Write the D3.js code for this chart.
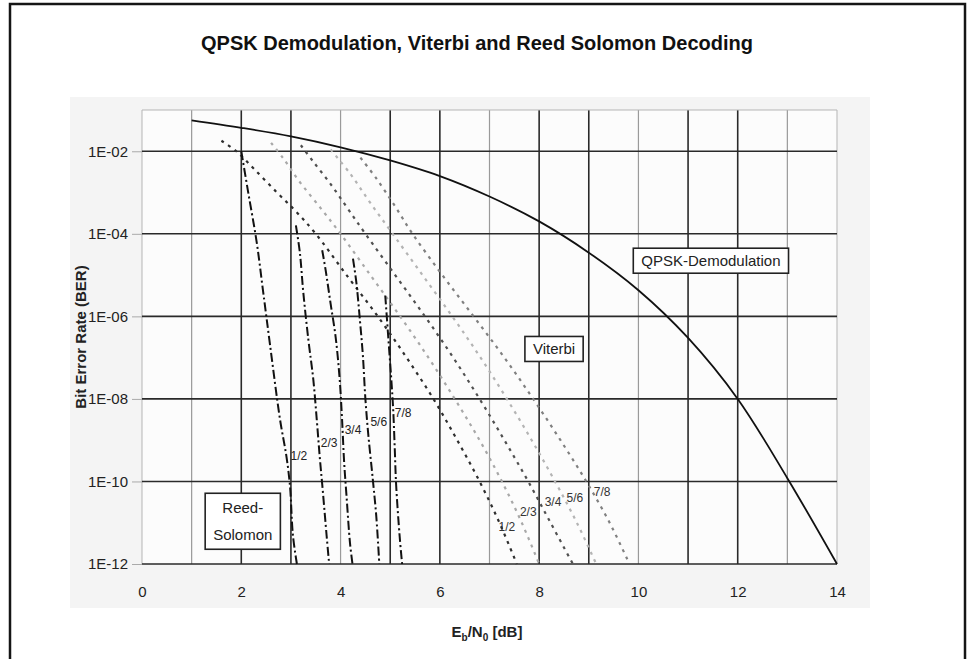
<!DOCTYPE html>
<html>
<head>
<meta charset="utf-8">
<script src="https://cdn.jsdelivr.net/npm/d3@7"></script>
<style>
  body { margin: 0; background: #fff; }
  svg { display: block; font-family: Arial, "Liberation Sans", Helvetica, sans-serif; }
</style>
</head>
<body>
<script>
// values (Eb/N0 in dB, BER)
var qpskEbN0 = [1, 2, 3, 4, 5, 6, 7, 8, 9, 10, 11, 12, 13, 14];
var qpskBer = [5.6e-2, 3.7e-2, 2.3e-2, 1.25e-2, 6e-3, 2.5e-3, 8e-4, 2e-4, 3.5e-5, 4.3e-6, 3e-7, 1e-8, 1.2e-10, 1e-12];

var rateLabels = ['1/2', '2/3', '3/4', '5/6', '7/8'];

var viterbiEbN0 = [
  [1.6, 1.9, 2.27, 2.72, 3.1, 3.5, 4.12, 4.75, 5.33, 5.87, 6.35, 6.8, 7.2, 7.55],
  [2.6, 2.84, 3.15, 3.65, 4.0, 4.6, 5.2, 5.77, 6.3, 6.8, 7.25, 7.65, 8.0],
  [3.2, 3.45, 3.8, 4.15, 4.5, 5.1, 5.7, 6.27, 6.8, 7.3, 7.78, 8.23, 8.68],
  [3.8, 4.2, 4.6, 5.05, 5.65, 6.25, 6.82, 7.35, 7.85, 8.32, 8.76, 9.15],
  [4.4, 4.72, 5.08, 5.45, 6.05, 6.68, 7.3, 7.88, 8.43, 8.95, 9.42, 9.82]
];
var viterbiBer = [
  [1.8e-2, 1e-2, 3.6e-3, 1e-3, 3.5e-4, 1e-4, 1e-5, 1e-6, 1e-7, 1e-8, 1e-9, 1e-10, 1e-11, 1e-12],
  [1.6e-2, 6.9e-3, 2e-3, 3.5e-4, 1e-4, 1e-5, 1e-6, 1e-7, 1e-8, 1e-9, 1e-10, 1e-11, 1e-12],
  [1.4e-2, 5.6e-3, 1.6e-3, 4e-4, 1e-4, 1e-5, 1e-6, 1e-7, 1e-8, 1e-9, 1e-10, 1e-11, 1e-12],
  [1.1e-2, 2.8e-3, 5.6e-4, 1e-4, 1e-5, 1e-6, 1e-7, 1e-8, 1e-9, 1e-10, 1e-11, 1e-12],
  [7e-3, 2.2e-3, 5e-4, 1e-4, 1e-5, 1e-6, 1e-7, 1e-8, 1e-9, 1e-10, 1e-11, 1e-12]
];

var rsEbN0 = [
  [2.0, 2.14, 2.31, 2.44, 2.58, 2.78, 2.91, 2.98, 3.04, 3.12],
  [3.1, 3.18, 3.25, 3.35, 3.45, 3.52, 3.58, 3.64, 3.72, 3.77],
  [3.63, 3.7, 3.8, 3.9, 3.98, 4.03, 4.07, 4.12, 4.19, 4.24],
  [4.25, 4.32, 4.39, 4.45, 4.5, 4.56, 4.65, 4.72, 4.78],
  [4.9, 4.96, 5.02, 5.06, 5.09, 5.12, 5.19, 5.24]
];
var rsBer = [
  [1e-2, 1e-3, 6.3e-5, 4e-6, 2e-7, 3.2e-9, 4e-10, 8e-11, 5e-12, 1e-12],
  [1.6e-4, 3.5e-5, 3.7e-6, 2.8e-7, 3e-8, 3.2e-9, 4e-10, 6.3e-11, 4.7e-12, 1e-12],
  [4e-5, 1.3e-5, 2e-6, 3.2e-7, 3.2e-8, 3.2e-9, 3.2e-10, 4.4e-11, 3.2e-12, 1e-12],
  [2.5e-5, 6.3e-6, 8e-7, 1.1e-7, 1e-8, 1.3e-9, 1.1e-10, 1.4e-11, 1e-12],
  [3.2e-6, 3.2e-7, 3.2e-8, 5.5e-9, 7e-10, 8e-11, 4.7e-12, 1e-12]
];

// where the rate numbers sit (dB, BER)
var viterbiLabelEbN0 = [7.35, 7.78, 8.28, 8.72, 9.27];
var viterbiLabelBer = [7.9e-12, 1.8e-11, 3.2e-11, 4e-11, 5.5e-11];
var rsLabelEbN0 = [3.16, 3.77, 4.25, 4.77, 5.26];
var rsLabelBer = [4.2e-10, 8.5e-10, 1.8e-9, 2.8e-9, 4.6e-9];

// boxed captions
var boxText = ['QPSK-Demodulation', 'Viterbi', 'Reed-|Solomon'];
var boxEbN0 = [11.46, 8.3, 2.03];
var boxBer = [2.2e-5, 1.6e-7, 1.07e-11];

var yTicks = [1e-2, 1e-4, 1e-6, 1e-8, 1e-10, 1e-12];
var yTickLabels = ['1E-02', '1E-04', '1E-06', '1E-08', '1E-10', '1E-12'];
var xTicks = [0, 2, 4, 6, 8, 10, 12, 14];

var width = 976, height = 659;
var plot = { left: 142, right: 837, top: 110, bottom: 564 };

var x = d3.scaleLinear().domain([0, 14]).range([plot.left, plot.right]);
var y = d3.scaleLog().domain([1e-12, 1e-1]).range([plot.bottom, plot.top]);

var svg = d3.select('body').append('svg')
  .attr('width', width)
  .attr('height', height);

// frame and panels
svg.append('rect')
  .attr('x', 10).attr('y', 4).attr('width', 955).attr('height', 700)
  .attr('fill', '#fff').attr('stroke', '#151515').attr('stroke-width', 2.5);
svg.append('rect')
  .attr('x', 70).attr('y', 97).attr('width', 800).attr('height', 511)
  .attr('fill', '#f4f4f4');
svg.append('rect')
  .attr('x', plot.left).attr('y', plot.top)
  .attr('width', plot.right - plot.left).attr('height', plot.bottom - plot.top)
  .attr('fill', '#fcfcfc');

// vertical grid, every dB (scan makes every third one look lighter)
svg.append('g')
  .attr('class', 'vgrid')
  .selectAll('line')
  .data(d3.range(0, 15))
  .enter().append('line')
  .attr('x1', function(d) { return x(d); })
  .attr('x2', function(d) { return x(d); })
  .attr('y1', y(1e-1))
  .attr('y2', y(1e-12))
  .attr('stroke', function(d) {
    if (d === 0 || d === 14) return '#b5b5b5';
    return d % 3 === 1 ? '#9a9a9a' : '#2a2a2a';
  })
  .attr('stroke-width', function(d) {
    if (d === 0 || d === 14) return 1;
    return d % 3 === 1 ? 1.2 : 1.6;
  });

// horizontal grid, every two decades
svg.append('g')
  .attr('class', 'hgrid')
  .selectAll('line')
  .data([1e-1].concat(yTicks))
  .enter().append('line')
  .attr('x1', plot.left)
  .attr('x2', plot.right)
  .attr('y1', function(d) { return y(d); })
  .attr('y2', function(d) { return y(d); })
  .attr('stroke', function(d) { return d === 1e-1 ? '#b5b5b5' : '#2a2a2a'; })
  .attr('stroke-width', function(d) { return d === 1e-1 ? 1 : 1.6; });

// axes
var yAxis = svg.append('g')
  .attr('transform', 'translate(' + plot.left + ',0)')
  .call(d3.axisLeft(y)
    .tickValues(yTicks)
    .tickFormat(function(d, i) { return yTickLabels[i]; })
    .tickSize(10)
    .tickPadding(4));
yAxis.select('.domain').remove();
yAxis.selectAll('line').attr('stroke', '#aaa');
yAxis.selectAll('text')
  .attr('font-size', 15)
  .attr('font-family', 'Arial, "Liberation Sans", sans-serif')
  .attr('fill', '#222');

var xAxis = svg.append('g')
  .attr('transform', 'translate(0,' + plot.bottom + ')')
  .call(d3.axisBottom(x)
    .tickValues(xTicks)
    .tickSize(0)
    .tickPadding(22));
xAxis.select('.domain').remove();
xAxis.selectAll('text')
  .attr('font-size', 15)
  .attr('font-family', 'Arial, "Liberation Sans", sans-serif')
  .attr('fill', '#222');

// curves
var line = d3.line()
  .x(function(d) { return x(d[0]); })
  .y(function(d) { return y(d[1]); })
  .curve(d3.curveCatmullRom.alpha(0.5));

function zip(xs, ys) {
  return xs.map(function(v, i) { return [v, ys[i]]; });
}

var viterbiColors = ['#2e2e2e', '#a8a8a8', '#505050', '#b4b4b4', '#808080'];

svg.append('g')
  .attr('class', 'viterbi')
  .selectAll('path')
  .data(viterbiEbN0.map(function(xs, i) { return zip(xs, viterbiBer[i]); }))
  .enter().append('path')
  .attr('d', line)
  .attr('fill', 'none')
  .attr('stroke', function(d, i) { return viterbiColors[i]; })
  .attr('stroke-width', 2.2)
  .attr('stroke-dasharray', '3,5');

svg.append('g')
  .attr('class', 'rs')
  .selectAll('path')
  .data(rsEbN0.map(function(xs, i) { return zip(xs, rsBer[i]); }))
  .enter().append('path')
  .attr('d', line)
  .attr('fill', 'none')
  .attr('stroke', '#111')
  .attr('stroke-width', 2)
  .attr('stroke-dasharray', '9,3,2,3');

svg.append('path')
  .datum(zip(qpskEbN0, qpskBer))
  .attr('d', line)
  .attr('fill', 'none')
  .attr('stroke', '#111')
  .attr('stroke-width', 1.8);

// rate labels
svg.append('g')
  .attr('class', 'v-labels')
  .selectAll('text')
  .data(rateLabels)
  .enter().append('text')
  .attr('x', function(d, i) { return x(viterbiLabelEbN0[i]); })
  .attr('y', function(d, i) { return y(viterbiLabelBer[i]); })
  .attr('dy', '0.35em')
  .attr('text-anchor', 'middle')
  .attr('font-size', 12)
  .attr('fill', '#333')
  .text(function(d) { return d; });

svg.append('g')
  .attr('class', 'rs-labels')
  .selectAll('text')
  .data(rateLabels)
  .enter().append('text')
  .attr('x', function(d, i) { return x(rsLabelEbN0[i]); })
  .attr('y', function(d, i) { return y(rsLabelBer[i]); })
  .attr('dy', '0.35em')
  .attr('text-anchor', 'middle')
  .attr('font-size', 12)
  .attr('fill', '#222')
  .text(function(d) { return d; });

// boxed captions
var notes = svg.append('g')
  .attr('class', 'notes')
  .selectAll('g')
  .data(boxText)
  .enter().append('g')
  .attr('transform', function(d, i) { return 'translate(' + x(boxEbN0[i]) + ',' + y(boxBer[i]) + ')'; });

notes.each(function(d) {
  var g = d3.select(this);
  var lines = d.split('|');
  var t = g.append('text')
    .attr('text-anchor', 'middle')
    .attr('font-size', 15)
    .attr('fill', '#222');
  lines.forEach(function(s, k) {
    t.append('tspan')
      .attr('x', 0)
      .attr('dy', k === 0 ? (0.35 - (lines.length - 1) * 0.9) + 'em' : '1.8em')
      .text(s);
  });
  var b = t.node().getBBox();
  g.insert('rect', 'text')
    .attr('x', b.x - 8)
    .attr('y', b.y - (lines.length > 1 ? 6 : 4))
    .attr('width', b.width + 16)
    .attr('height', b.height + (lines.length > 1 ? 12 : 8))
    .attr('fill', '#fff')
    .attr('stroke', '#222')
    .attr('stroke-width', 1.6);
});

// titles
svg.append('text')
  .attr('x', 477)
  .attr('y', 50)
  .attr('text-anchor', 'middle')
  .attr('font-size', 20)
  .attr('font-weight', 'bold')
  .attr('fill', '#111')
  .text('QPSK Demodulation, Viterbi and Reed Solomon Decoding');

svg.append('text')
  .attr('transform', 'translate(86,' + (plot.top + plot.bottom) / 2 + ') rotate(-90)')
  .attr('text-anchor', 'middle')
  .attr('font-size', 15)
  .attr('font-weight', 'bold')
  .attr('fill', '#222')
  .text('Bit Error Rate (BER)');

var xLabel = svg.append('text')
  .attr('x', 487)
  .attr('y', 637)
  .attr('text-anchor', 'middle')
  .attr('font-size', 15)
  .attr('font-weight', 'bold')
  .attr('fill', '#222');
xLabel.append('tspan').text('E');
xLabel.append('tspan').attr('font-size', 10).attr('dy', 4).text('b');
xLabel.append('tspan').attr('dy', -4).text('/N');
xLabel.append('tspan').attr('font-size', 10).attr('dy', 4).text('0');
xLabel.append('tspan').attr('dy', -4).text(' [dB]');
</script>
</body>
</html>
